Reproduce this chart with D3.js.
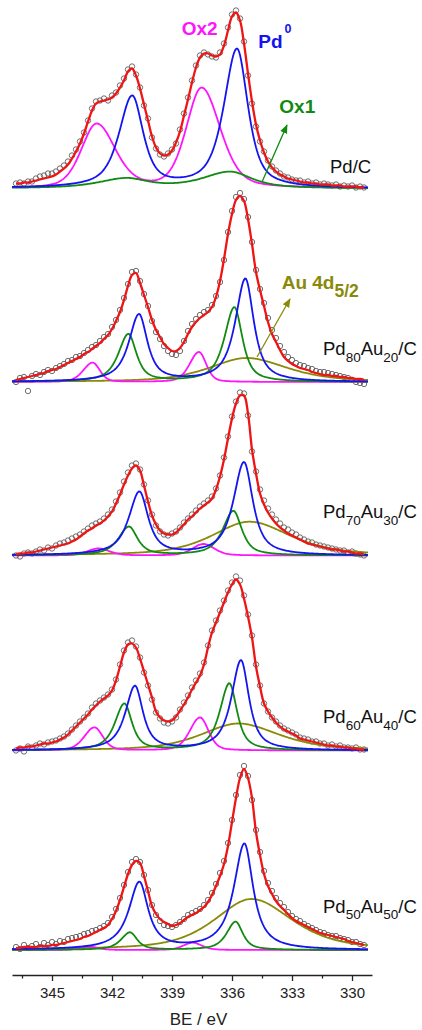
<!DOCTYPE html>
<html><head><meta charset="utf-8">
<script src="https://cdn.jsdelivr.net/npm/d3@7"></script>
<style>
body{margin:0;background:#fff;}
svg{display:block;font-family:Arial,"Liberation Sans",sans-serif;}
</style>
</head><body>
<svg id="chart" width="422" height="1030"></svg>
<script>
// ================= data =================
const samplePd = [null, 80, 70, 60, 50];
const sampleAu = [null, 20, 30, 40, 50];
// vertical stacking offset of each spectrum (a.u.)
const offsets = [771.5, 578, 404.5, 209.5, 10];

// binding energies of the measured points: 346.8 ... 329.4 eV, 0.2 eV step
const energies = d3.range(88).map(k => +(346.8 - 0.2 * k).toFixed(1));

// measured intensities (open circles), one array per sample
const expPdC  = [5,6,5,7,7,10,12,13,15,15,17, 20,23,27,33,39,47,56,68,80,87,88, 90,88,93,96,103,110,119,122,114,101,83, 70,51,40,34,32,35,39,45,59,75,91, 108,123,133,136,134,132,131,136,145,161,174, 178,170,147,113,85,62,47,37,28,22,18, 15,12,11,9,8,8,6,7,5,6,4, 5,4,3,4,2,3,2,3,1,2,1];
const expPd80 = [0,4,5,-9,6,8,7,10,12,11,14, 16,18,21,22,25,26,29,32,35,37,41, 45,48,55,62,72,84,98,110,111,101,88, 76,61,50,43,36,31,28,27,31,41,51, 58,63,67,70,72,77,86,100,122,150,171, 185,189,183,165,140,112,93,79,64,52,44, 36,30,25,22,19,17,16,14,13,11,10, 10,9,8,7,6,5,4,2,0,-1,-2];
const expPd70 = [0,-1,2,3,2,4,6,5,8,7,10, 12,13,15,17,19,21,24,27,30,32,34, 37,41,46,54,63,74,83,90,92,86,71, 55,41,30,24,21,20,22,24,28,33,37, 41,45,49,52,55,59,67,80,98,119,139, 154,163,162,140,104,84,66,55,47,41,36, 32,28,26,23,21,18,16,14,13,11,10, 9,8,7,6,5,5,3,4,2,1,0];
const expPd60 = [0,2,-1,4,3,5,7,6,8,9,10, 12,14,17,21,25,29,33,37,43,47,50, 53,56,61,71,86,100,108,110,104,93,78, 65,51,38,32,28,27,29,33,41,48,55, 63,70,77,88,105,120,130,140,150,160,168, 174,170,155,136,115,86,65,47,39,33,29, 25,22,20,18,16,13,12,11,9,9,7, 7,5,6,4,5,3,3,2,3,1,1];
const expPd50 = [3,1,5,2,4,6,3,7,5,8,6, 9,8,11,12,13,14,16,17,19,20,22, 24,27,33,41,52,65,78,88,91,88,75, 60,45,35,29,25,24,23,25,28,31,35, 37,39,41,45,50,57,66,77,89,107,130, 155,175,184,174,150,120,98,79,67,59,52, 47,43,38,34,31,29,26,24,22,20,18, 17,15,14,14,12,11,10,8,8,6,5];

// fitted envelope (red line), one array per sample
const fitPdC  = [5,5,6,6,7,8,9,10,11,12,14, 17,20,24,30,37,45,55,67,78,85,87, 88,89,91,95,101,108,117,120,113,100,84, 68,52,41,35,33,34,38,46,57,73,89, 106,121,131,135,135,133,132,134,143,158,172, 176,168,145,115,87,64,48,36,27,21,17, 14,12,10,9,8,7,6,6,5,5,4, 4,4,3,3,3,2,2,2,2,1,1];
const fitPd80 = [2,3,4,5,6,7,8,9,11,12,13, 15,17,19,21,23,25,28,30,33,36,39, 43,47,53,61,70,82,96,107,109,99,87, 75,62,52,45,38,34,31,31,34,40,48, 55,60,64,67,70,75,85,101,123,148,168, 182,186,181,163,138,110,92,76,60,48,40, 32,25,21,18,16,14,13,12,10,9,8, 7,7,6,6,5,5,4,4,3,3,2];
const fitPd70 = [1,2,2,3,3,4,5,6,7,8,9, 10,11,12,14,16,19,22,25,27,30,32, 35,39,44,52,61,71,80,87,90,85,70, 54,40,31,25,22,21,21,23,27,31,36, 39,43,47,50,53,57,66,79,96,117,137, 152,160,160,142,106,82,62,51,43,37,32, 28,25,22,20,18,16,14,12,11,10,9, 8,7,6,6,5,4,4,3,2,2,1];
const fitPd60 = [2,3,3,4,4,5,6,7,7,8,9, 11,13,16,20,24,28,32,36,41,45,49, 52,55,60,70,84,98,106,107,103,92,79, 66,53,39,33,30,29,30,34,40,46,53, 61,68,75,86,103,118,128,138,148,158,166, 171,166,152,134,113,84,64,47,39,33,28, 24,21,19,17,15,12,11,10,9,8,7, 6,5,5,4,4,3,3,2,2,1,1];
const fitPd50 = [2,2,3,3,3,3,4,4,4,5,5, 6,7,8,9,10,11,13,14,16,18,20, 22,25,31,39,50,63,76,85,89,87,74, 59,44,36,31,28,26,24,25,27,30,33, 35,37,40,43,48,55,64,74,86,104,128, 152,172,181,172,152,118,95,76,64,56,49, 44,40,36,32,29,27,25,23,21,19,17, 16,15,14,13,12,11,9,8,7,6,5];

// fitted components: peak position (eV), height (a.u.), FWHM (eV)
const pd0Pos52 = [335.75, 335.33, 335.40, 335.55, 335.38];
const pd0Pos32 = [340.99, 340.65, 340.63, 340.85, 340.63];
const pd0H52 = [139, 103, 93, 90, 106];
const pd0H32 = [91, 67, 63, 64, 67];
const pd0W = [1.3, 1.0, 1.05, 0.95, 1.05];
const pd0Eta = [0.7, 0.85, 0.85, 0.85, 0.95];
const ox1Pos52 = [336.10, 335.88, 335.93, 336.13, 335.82];
const ox1Pos32 = [341.30, 341.18, 341.15, 341.38, 341.10];
const ox1H52 = [16.5, 74.6, 44.5, 67, 28.3];
const ox1H32 = [9.5, 47.5, 28.5, 46.5, 17.5];
const ox1W = [2.6, 0.95, 1.0, 0.9, 0.85];
const ox2Pos52 = [337.52, 337.65, 337.43, 337.60, 337.97];
const ox2Pos32 = [342.77, 342.97, 342.68, 342.88, 343.20];
const ox2H52 = [100, 30, 11.5, 33, 7.3];
const ox2H32 = [64, 19.3, 7, 23, 3.5];
const ox2W = [2.2, 0.85, 1.3, 1.0, 1.1];
const ox2Asym = [0.82, 1.3, 1.0, 1.2, 1.0];
const auPos = [335.0, 335.27, 335.13, 335.68, 335.02];
const auH = [0, 24, 33.8, 27, 51];
const auW = [4.8, 4.8, 4.8, 4.8, 4.8];
const shapeEta = {ox1: 0.75, ox2: 0.35, au: 0.6};
const shapeAsym = {pd0: 1.2, ox1: 1.25, au: 0.92};

// axis
const majorTicks = [345, 342, 339, 336, 333, 330];
const minorTicks = [346.5, 343.5, 340.5, 337.5, 334.5, 331.5];

// ================= drawing =================
const expData = [expPdC, expPd80, expPd70, expPd60, expPd50];
const fitData = [fitPdC, fitPd80, fitPd70, fitPd60, fitPd50];

const svg = d3.select("#chart");
const x = d3.scaleLinear().domain([347, 329]).range([12, 372]);
const y = d3.scaleLinear().domain([0, 950]).range([960, 10]);
const colors = {exp: "#5e5e5e", fit: "#f01414", pd0: "#1414f0", ox1: "#118a11", ox2: "#ff14ff", au: "#8a8a0a"};

function profile(be, c, h, w, eta, asym) {
  const d = be - c;
  const hw = (w / 2) * (d > 0 ? asym : 1);
  const u2 = (d / hw) * (d / hw);
  return h * ((1 - eta) * Math.exp(-Math.LN2 * u2) + eta / (1 + u2));
}
const grid = d3.range(347, 329.17, -0.05);
const line = d3.line().x(d => x(d[0])).y(d => y(d[1]));
const fitLine = d3.line().curve(d3.curveCatmullRom.alpha(0.5)).x(d => x(d[0])).y(d => y(d[1]));

for (let i = 0; i < 5; i++) {
  const g = svg.append("g");
  // measured points
  g.selectAll("circle").data(energies.map((be, k) => [be, offsets[i] + expData[i][k]]))
    .join("circle").attr("cx", d => x(d[0])).attr("cy", d => y(d[1])).attr("r", 2.7)
    .attr("fill", "none").attr("stroke", colors.exp).attr("stroke-width", 0.9);
  const comps = {
    au: be => profile(be, auPos[i], auH[i], auW[i], shapeEta.au, shapeAsym.au),
    ox2: be => profile(be, ox2Pos52[i], ox2H52[i], ox2W[i], shapeEta.ox2, ox2Asym[i]) + profile(be, ox2Pos32[i], ox2H32[i], ox2W[i], shapeEta.ox2, ox2Asym[i]),
    ox1: be => profile(be, ox1Pos52[i], ox1H52[i], ox1W[i], shapeEta.ox1, shapeAsym.ox1) + profile(be, ox1Pos32[i], ox1H32[i], ox1W[i], shapeEta.ox1, shapeAsym.ox1),
    pd0: be => profile(be, pd0Pos52[i], pd0H52[i], pd0W[i], pd0Eta[i], shapeAsym.pd0) + profile(be, pd0Pos32[i], pd0H32[i], pd0W[i], pd0Eta[i], shapeAsym.pd0)
  };
  const order = i === 0 ? ["ox2", "ox1", "pd0"] : ["au", "ox2", "ox1", "pd0"];
  order.forEach(k => {
    g.append("path").datum(grid.map(be => [be, offsets[i] + comps[k](be)]))
      .attr("d", line).attr("fill", "none").attr("stroke", colors[k]).attr("stroke-width", 1.8);
  });
  g.append("path").datum(energies.map((be, k) => [be, offsets[i] + fitData[i][k]]))
    .attr("d", fitLine).attr("fill", "none").attr("stroke", colors.fit).attr("stroke-width", 2.3);
}

// ---------- axis ----------
const ax = svg.append("g").attr("transform", "translate(0,975)")
  .call(d3.axisBottom(x).tickValues(majorTicks).tickSize(6).tickSizeOuter(0).tickPadding(6).tickFormat(d3.format("d")));
ax.select(".domain").attr("stroke", "#222").attr("stroke-width", 1.3);
ax.selectAll(".tick line").attr("stroke", "#222").attr("stroke-width", 1.3);
ax.selectAll(".tick text").attr("font-size", 15).attr("fill", "#222").attr("font-family", "Arial, 'Liberation Sans', sans-serif");
const axm = svg.append("g").attr("transform", "translate(0,975)")
  .call(d3.axisBottom(x).tickValues(minorTicks).tickSize(3.5).tickFormat(""));
axm.select(".domain").remove();
axm.selectAll(".tick line").attr("stroke", "#222").attr("stroke-width", 1.3);
svg.append("text").attr("x", 198.5).attr("y", 1025).attr("text-anchor", "middle")
  .attr("font-size", 17).attr("fill", "#222").text("BE / eV");

// ---------- labels ----------
const labelY = [172.7, 355, 518.3, 723.3, 912.7];
labelY.forEach((ly, i) => {
  const t = svg.append("text").attr("x", i === 0 ? 330 : 323).attr("y", ly).attr("font-size", 18.5).attr("fill", "#111");
  if (i === 0) { t.text("Pd/C"); return; }
  t.append("tspan").text("Pd");
  t.append("tspan").attr("font-size", 13.5).attr("dy", 6.5).text(samplePd[i]);
  t.append("tspan").attr("dy", -6.5).text("Au");
  t.append("tspan").attr("font-size", 13.5).attr("dy", 6.5).text(sampleAu[i]);
  t.append("tspan").attr("dy", -6.5).text("/C");
});

svg.append("text").attr("x", 181.7).attr("y", 35).attr("font-size", 19).attr("font-weight", "bold").attr("fill", colors.ox2).text("Ox2");
const pdl = svg.append("text").attr("x", 258.3).attr("y", 48.3).attr("font-size", 19).attr("font-weight", "bold").attr("fill", colors.pd0);
pdl.append("tspan").text("Pd");
pdl.append("tspan").attr("font-size", 12.5).attr("dx", 2).attr("dy", -15).text("0");
svg.append("text").attr("x", 279.3).attr("y", 113.3).attr("font-size", 19).attr("font-weight", "bold").attr("fill", colors.ox1).text("Ox1");
const aul = svg.append("text").attr("x", 281.7).attr("y", 289).attr("font-size", 19).attr("font-weight", "bold").attr("fill", colors.au);
aul.append("tspan").text("Au 4d");
aul.append("tspan").attr("font-size", 17.5).attr("dy", 8).text("5/2");

// arrows
const defs = svg.append("defs");
[["ox1", colors.ox1], ["au", colors.au]].forEach(([id, c]) => {
  defs.append("marker").attr("id", "arr-" + id).attr("viewBox", "0 0 10 10").attr("refX", 9).attr("refY", 5)
    .attr("markerWidth", 7).attr("markerHeight", 7).attr("orient", "auto")
    .append("path").attr("d", "M0,1 L10,5 L0,9 Z").attr("fill", c);
});
svg.append("line").attr("x1", 262).attr("y1", 182).attr("x2", 287).attr("y2", 125)
  .attr("stroke", colors.ox1).attr("stroke-width", 1.3).attr("marker-end", "url(#arr-ox1)");
svg.append("line").attr("x1", 257).attr("y1", 357).attr("x2", 290).attr("y2", 299)
  .attr("stroke", colors.au).attr("stroke-width", 1.3).attr("marker-end", "url(#arr-au)");
</script>
</body></html>
